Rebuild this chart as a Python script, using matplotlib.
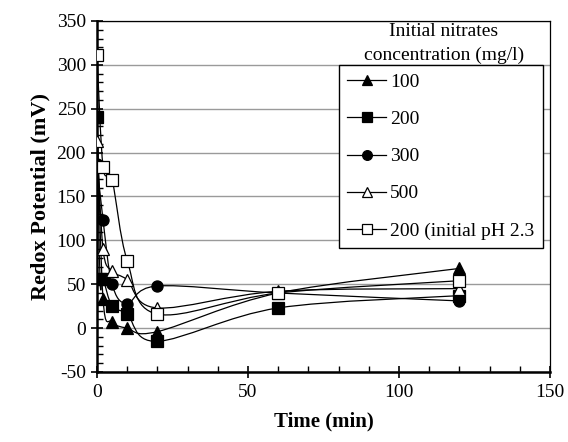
import numpy as np
import matplotlib
matplotlib.use("Agg")
import matplotlib.pyplot as plt
from matplotlib.path import Path
from matplotlib.patches import PathPatch
from matplotlib.ticker import MultipleLocator

# data
t_100 = [0, 2, 5, 10, 20, 60, 120]
redox_100 = [241, 33, 7, 0, -4, 40, 68]

t_200 = [0, 1, 2, 5, 10, 20, 60, 120]
redox_200 = [241, 56, 56, 25, 16, -15, 23, 37]

t_300 = [0, 2, 5, 10, 20, 60, 120]
redox_300 = [187, 123, 50, 28, 48, 40, 31]

t_500 = [0, 2, 5, 10, 20, 60, 120]
redox_500 = [213, 90, 65, 55, 23, 42, 45]

t_200ph = [0, 2, 5, 10, 20, 60, 120]
redox_200ph = [311, 184, 169, 77, 16, 40, 54]

labels = ["100", "200", "300", "500", "200 (initial pH 2.3"]
markers = ["^", "s", "o", "^", "s"]
filled = [True, True, True, False, False]

plt.rcParams['font.family'] = ['Liberation Serif', 'DejaVu Serif']
plt.rcParams['axes.unicode_minus'] = False


#Excel style smoothed line through the points, drawn as cubic bezier segments
def smoothPath(x, y):
    pts = np.column_stack([x, y]).astype(float)
    n = len(pts)
    verts = [pts[0]]
    codes = [Path.MOVETO]
    for i in range(n - 1):
        p0 = pts[i - 1] if i > 0 else pts[i]
        p1 = pts[i]
        p2 = pts[i + 1]
        p3 = pts[i + 2] if i + 2 < n else pts[i + 1]
        c1 = p1 + (p2 - p0) / 6.0
        c2 = p2 - (p3 - p1) / 6.0
        verts += [c1, c2, p2]
        codes += [Path.CURVE4] * 3
    return Path(verts, codes)


fig = plt.figure(figsize=(5.68, 4.42), dpi=100)
ax = fig.add_axes([0.1708, 0.1584, 0.7975, 0.7941])

series = [(t_100, redox_100), (t_200, redox_200), (t_300, redox_300),
          (t_500, redox_500), (t_200ph, redox_200ph)]

for k, ((t, r), lab, m, f) in enumerate(zip(series, labels, markers, filled)):
    ax.add_patch(PathPatch(smoothPath(t, r), facecolor='none',
                           edgecolor='black', lw=0.9, zorder=3))
    ax.plot(t, r, linestyle='none', marker=m, markersize=8,
            markerfacecolor='black' if f else 'white',
            markeredgecolor='black', markeredgewidth=0.9, zorder=4 + k * 0.01)
    #proxy for the legend
    ax.plot([], [], color='black', lw=0.9, marker=m, markersize=7,
            markerfacecolor='black' if f else 'white',
            markeredgecolor='black', markeredgewidth=0.9, label=lab)

ax.set_xlim(0, 150)
ax.set_ylim(-50, 350)
ax.xaxis.set_major_locator(MultipleLocator(50))
ax.xaxis.set_minor_locator(MultipleLocator(10))
ax.yaxis.set_major_locator(MultipleLocator(50))
ax.yaxis.set_minor_locator(MultipleLocator(10))
ax.tick_params(which='major', direction='inout', length=9, width=1.2,
               labelsize=14, colors='black')
ax.tick_params(which='minor', direction='in', length=4, width=1)
ax.tick_params(axis='x', which='major', pad=4)

ax.yaxis.grid(True, which='major', color='#9a9a9a', lw=1)
ax.set_axisbelow(True)

ax.spines['left'].set_linewidth(1.8)
ax.spines['bottom'].set_linewidth(1.8)
ax.spines['top'].set_linewidth(0.9)
ax.spines['right'].set_linewidth(0.9)

ax.set_xlabel("Time (min)", fontsize=15, fontweight='bold', labelpad=8)
ax.set_ylabel("Redox Potential (mV)", fontsize=16, fontweight='bold', labelpad=4)

leg = ax.legend(loc='upper right', bbox_to_anchor=(0.985, 0.875),
                borderaxespad=0, fontsize=14, frameon=True, fancybox=False,
                handlelength=2.0, labelspacing=1.0, handletextpad=0.2,
                borderpad=0.45)
leg.get_frame().set_edgecolor('black')
leg.get_frame().set_linewidth(1.0)
leg.get_frame().set_alpha(1)

ax.text(0.766, 0.969, "Initial nitrates", transform=ax.transAxes,
        ha='center', va='center', fontsize=14)
ax.text(0.766, 0.903, "concentration (mg/l)", transform=ax.transAxes,
        ha='center', va='center', fontsize=14)

fig.savefig("out.png", dpi=100)
